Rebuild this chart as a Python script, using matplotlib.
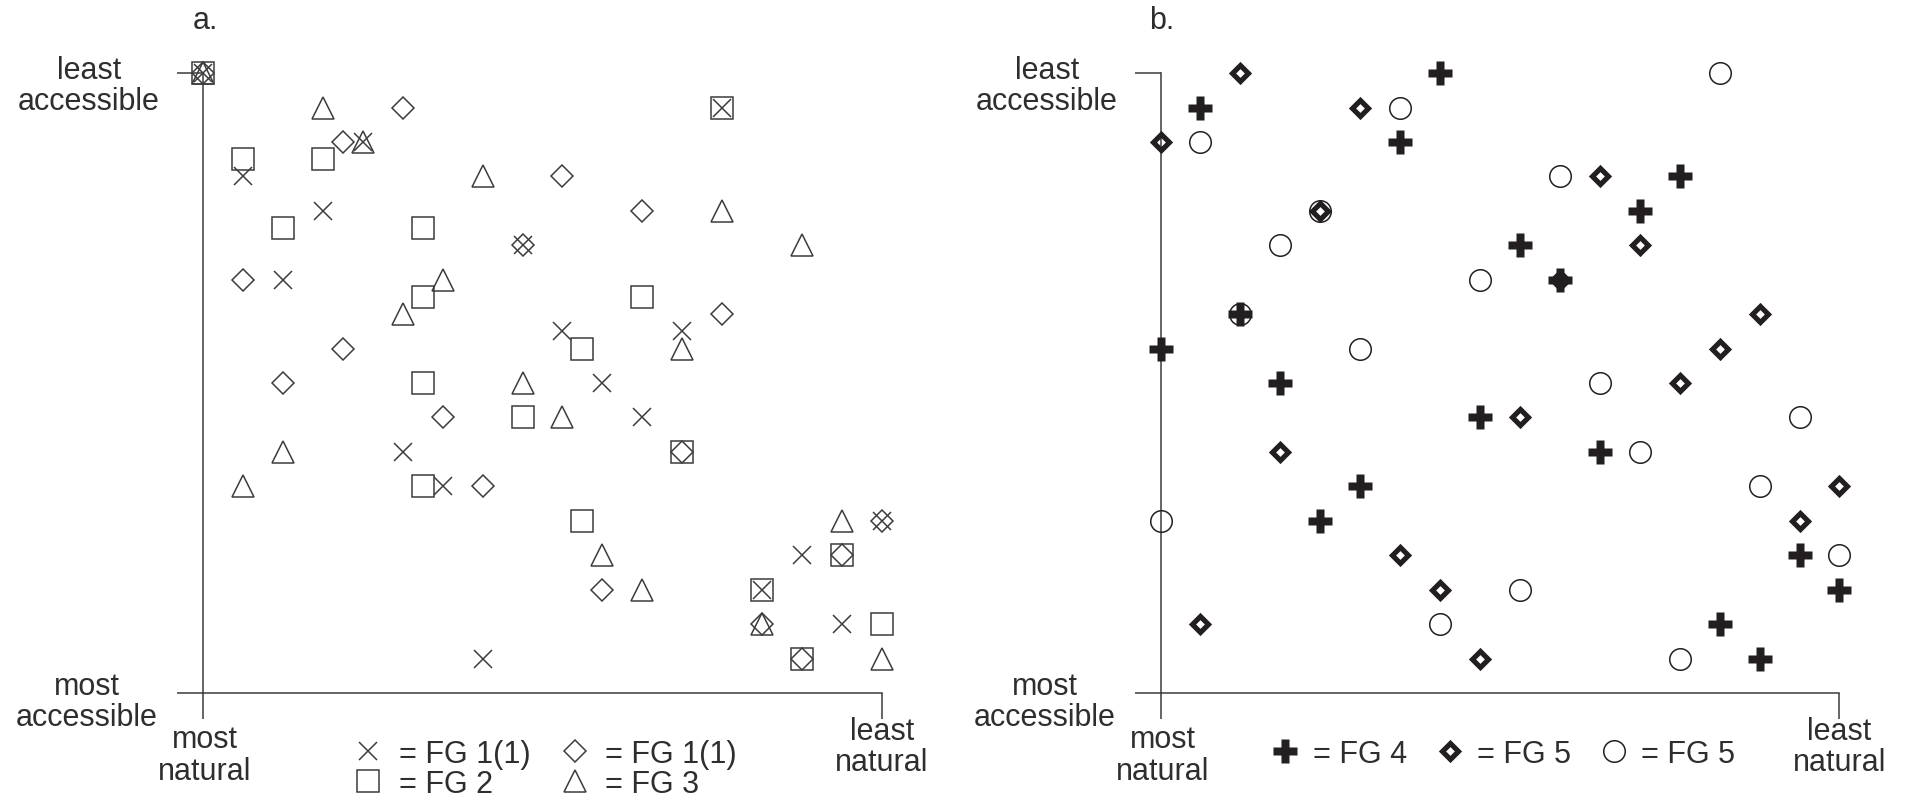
import matplotlib
matplotlib.use('Agg')
import matplotlib.pyplot as plt

plt.rcParams['font.family'] = ['Liberation Sans', 'DejaVu Sans']

# x: 0 = most natural .. 17 = least natural
# y: 0 = most accessible .. 18 = least accessible

# panel a
fg1_cross_x = [0, 13, 4, 1, 3, 8, 2, 9, 12, 10, 11, 5, 6, 17, 15, 14, 16, 7]
fg1_cross_y = [18, 17, 16, 15, 14, 13, 12, 10.5, 10.5, 9, 8, 7, 6, 5, 4, 3, 2, 1]
fg1_diam_x = [0, 5, 3.5, 9, 11, 8, 1, 13, 3.5, 2, 6, 12, 7, 17, 16, 10, 14, 15]
fg1_diam_y = [18, 17, 16, 15, 14, 13, 12, 11, 10, 9, 8, 7, 6, 5, 4, 3, 2, 1]
fg2_x = [0, 13, 1, 3, 2, 5.5, 5.5, 11, 9.5, 5.5, 8, 12, 5.5, 9.5, 16, 14, 17, 15]
fg2_y = [18, 17, 15.5, 15.5, 13.5, 13.5, 11.5, 11.5, 10, 9, 8, 7, 6, 5, 4, 3, 2, 1]
fg3_x = [0, 3, 4, 7, 13, 15, 6, 5, 12, 8, 9, 2, 1, 16, 10, 11, 14, 17]
fg3_y = [18, 17, 16, 15, 14, 13, 12, 11, 10, 9, 8, 7, 6, 5, 4, 3, 2, 1]

# panel b
fg4_x = [7, 1, 6, 13, 12, 9, 10, 2, 0, 3, 8, 11, 5, 4, 16, 17, 14, 15]
fg4_y = [18, 17, 16, 15, 14, 13, 12, 11, 10, 9, 8, 7, 6, 5, 4, 3, 2, 1]
fg5_diam_x = [2, 5, 0, 11, 4, 12, 10, 15, 14, 13, 9, 3, 17, 16, 6, 7, 1, 8]
fg5_diam_y = [18, 17, 16, 15, 14, 13, 12, 11, 10, 9, 8, 7, 6, 5, 4, 3, 2, 1]
fg5_circ_x = [14, 6, 1, 10, 4, 3, 8, 2, 5, 11, 16, 12, 15, 0, 17, 9, 7, 13]
fg5_circ_y = [18, 17, 16, 15, 14, 13, 12, 11, 10, 9, 8, 7, 6, 5, 4, 3, 2, 1]

W, H = 1910, 803
ux, uy = 39.94, 34.44
line_c = '#3c3c3c'
text_c = '#2e2e2e'
dark = '#231f20'
fs = 22

fig = plt.figure(figsize=(W / 100, H / 100), dpi=100)


def make_axes(x0):
    # x0 = pixel position of the vertical axis
    ax = fig.add_axes([(x0 - ux) / W, (H - 694 - uy) / H, 19 * ux / W, 20 * uy / H])
    ax.set_xlim(-1, 18)
    ax.set_ylim(-1, 19)
    ax.patch.set_visible(False)
    for s in ['top', 'right']:
        ax.spines[s].set_visible(False)
    ax.spines['left'].set_position(('data', 0))
    ax.spines['bottom'].set_position(('data', 0))
    ax.spines['left'].set_bounds(0, 18)
    ax.spines['bottom'].set_bounds(0, 17)
    for s in ['left', 'bottom']:
        ax.spines[s].set_color(line_c)
        ax.spines[s].set_linewidth(1.1)
    ax.set_xticks([0, 17])
    ax.set_yticks([0, 18])
    ax.tick_params(direction='out', length=18.5, width=1.1, color=line_c,
                   labelleft=False, labelbottom=False)
    kw = dict(fontsize=fs, color=text_c, ha='center', va='center',
              multialignment='center', linespacing=1.05)
    ax.text(-2.85, 17.65, 'least\naccessible', **kw)
    ax.text(-2.9, -0.25, 'most\naccessible', **kw)
    ax.text(0.05, -1.8, 'most\nnatural', **kw)
    ax.text(17.0, -1.55, 'least\nnatural', **kw)
    return ax


ax1 = make_axes(203)
thin = dict(ls='none', color=line_c, mfc='none', mew=1.1, clip_on=False)
h_cross, = ax1.plot(fg1_cross_x, fg1_cross_y, marker='x', ms=13.5, **thin)
h_diam, = ax1.plot(fg1_diam_x, fg1_diam_y, marker='D', ms=11.3, **thin)
h_sq, = ax1.plot(fg2_x, fg2_y, marker='s', ms=16.3, **thin)
h_tri, = ax1.plot(fg3_x, fg3_y, marker='^', ms=16.3, **thin)

ax1.legend([h_cross, h_sq, h_diam, h_tri],
           ['= FG 1(1)', '= FG 2', '= FG 1(1)', '= FG 3'],
           ncol=2, loc='upper left', bbox_to_anchor=(353 / W, 63 / H),
           bbox_transform=fig.transFigure, frameon=False, fontsize=fs,
           borderpad=0, borderaxespad=0, handlelength=1.0, handletextpad=0.5,
           columnspacing=0.95, labelspacing=0.0, labelcolor=text_c)

ax2 = make_axes(1160.5)
h_plus, = ax2.plot(fg4_x, fg4_y, ls='none', marker='P', ms=17.3, color=dark,
                   mec='none', clip_on=False, zorder=4)
h_bd, = ax2.plot(fg5_diam_x, fg5_diam_y, ls='none', marker='D', ms=7.9, color=dark,
                 mfc='none', mew=3.7, clip_on=False, zorder=3)
h_circ, = ax2.plot(fg5_circ_x, fg5_circ_y, ls='none', marker='o', ms=15.5, color=dark,
                   mfc='none', mew=1.1, clip_on=False, zorder=3)

ax2.legend([h_plus, h_bd, h_circ], ['= FG 4', '= FG 5', '= FG 5'],
           ncol=3, loc='upper left', bbox_to_anchor=(1270 / W, 63 / H),
           bbox_transform=fig.transFigure, frameon=False, fontsize=fs,
           borderpad=0, borderaxespad=0, handlelength=1.0, handletextpad=0.4,
           columnspacing=0.9, labelcolor=text_c)

fig.text(205 / W, (H - 29) / H, 'a.', fontsize=fs, color=text_c, ha='center', va='baseline')
fig.text(1162 / W, (H - 29) / H, 'b.', fontsize=fs, color=text_c, ha='center', va='baseline')

fig.savefig('out.png', dpi=100)
